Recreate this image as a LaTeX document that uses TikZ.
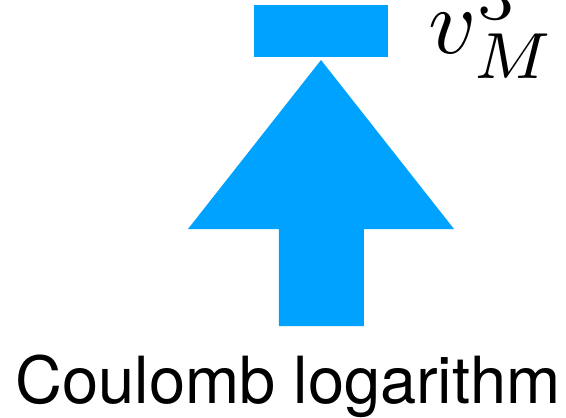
\documentclass[tikz,border=0pt]{standalone}
\usepackage{fontspec}
\setmainfont{TeX Gyre Heros}
\usepackage{xcolor,tikz}
\definecolor{arrowblue}{HTML}{00A2FF}

\begin{document}
\begin{tikzpicture}[x=0.02cm,y=-0.02cm,
 blk/.style={fill=arrowblue,draw=none,inner sep=0pt},
 lbl/.style={inner sep=0pt,scale=5.3}]
 \useasboundingbox (0,0) rectangle (566,417);
 \node[blk,minimum width=2.68cm,minimum height=1.04cm] (vbox) at (321,31) {};
 \node[lbl,anchor=base west] (vlabel) at (427,53) {$v_M^3$};
 % block arrow pointing up to the box
 \fill[arrowblue] (321,60) -- (454,229) -- (364,229) -- (364,326)
   -- (279,326) -- (279,229) -- (188,229) -- cycle;
 \node[inner sep=0pt,anchor=base,font=\fontsize{37}{44}\selectfont] (coul) at (288,403) {Coulomb logarithm};
\end{tikzpicture}
\end{document}
